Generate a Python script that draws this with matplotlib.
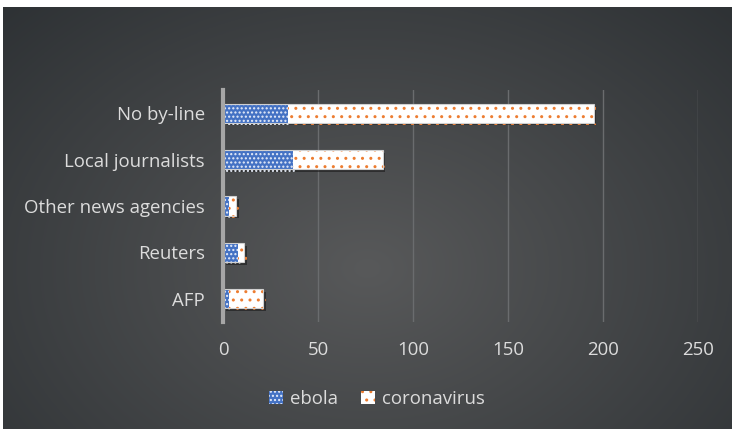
import numpy as np
import matplotlib
matplotlib.use("Agg")
import matplotlib.pyplot as plt
import matplotlib.patheffects as pe
from matplotlib.patches import Patch

# data
categories = ["AFP", "Reuters", "Other news agencies", "Local journalists", "No by-line"]
ebola = [3, 8, 3, 37, 34]
coronavirus = [18, 3, 4, 47, 161]
xticks = [0, 50, 100, 150, 200, 250]

plt.rcParams["font.family"] = ["Open Sans", "DejaVu Sans"]
plt.rcParams["hatch.linewidth"] = 1.0

fig = plt.figure(figsize=(7.32, 4.29), dpi=100)

# radial gradient background
bg = fig.add_axes([0.0041, 0, 0.9959, 1 - 7 / 429])
yy, xx = np.mgrid[0:1:300j, 0:1:500j]
r = np.sqrt(((xx - 0.5) / 0.75) ** 2 + ((yy - 0.62) / 0.95) ** 2)
r = np.clip(r, 0, 1)
c_in = np.array([0x58, 0x59, 0x5a]) / 255
c_out = np.array([0x2b, 0x2f, 0x32]) / 255
img = c_in[None, None, :] * (1 - r[..., None]) + c_out[None, None, :] * r[..., None]
bg.imshow(img, aspect="auto", extent=[0, 1, 0, 1], origin="upper")
bg.axis("off")

ax = fig.add_axes([223 / 732, 1 - 322 / 429, 475 / 732, 232 / 429])
ax.patch.set_alpha(0)

blue = "#4472C4"
orange = "#ED7D31"
y = np.arange(len(categories))
h = 0.41
shadow = [pe.SimplePatchShadow(offset=(2, -2), shadow_rgbFace="#1a1a1a", alpha=0.6), pe.Normal()]

b1 = ax.barh(y, ebola, height=h, color=blue, edgecolor="#e8eefa", hatch="....", linewidth=0,
             zorder=3)
b2 = ax.barh(y, coronavirus, left=ebola, height=h, color="white", edgecolor=orange,
             hatch="..", linewidth=0, zorder=3)
# outlines + shadows
for b in list(b1) + list(b2):
    b.set_path_effects(shadow)
ax.barh(y, np.array(ebola) + np.array(coronavirus), height=h, fill=False,
        edgecolor="#d0d0d0", linewidth=0.8, zorder=4)

ax.set_xlim(0, 250)
ax.set_ylim(-0.5, len(categories) - 0.5)
ax.set_xticks(xticks)
ax.set_yticks(y)
ax.set_yticklabels(categories)
ax.tick_params(colors="#d9d9d9", labelsize=13.4, length=0)
ax.tick_params(axis="y", pad=13)
ax.tick_params(axis="x", pad=14)
for lbl in ax.get_xticklabels() + ax.get_yticklabels():
    lbl.set_color("#dcdcdc")
ax.xaxis.grid(True, color="#6a6c6e", linewidth=1.0, zorder=0)
ax.set_axisbelow(True)
for s in ["top", "right", "bottom"]:
    ax.spines[s].set_visible(False)
ax.spines["left"].set_color("#a6a6a6")
ax.spines["left"].set_linewidth(3)
ax.spines["left"].set_zorder(5)

handles = [Patch(facecolor=blue, edgecolor="#e8eefa", hatch="....", linewidth=0),
           Patch(facecolor="white", edgecolor=orange, hatch="..", linewidth=0)]
leg = fig.legend(handles, ["ebola", "coronavirus"], loc="center", bbox_to_anchor=(0.515, 1 - 399 / 429),
                 ncol=2, frameon=False, fontsize=13.4, handlelength=0.75, handleheight=0.75,
                 handletextpad=0.4, columnspacing=1.2, labelcolor="#dcdcdc")

fig.savefig("out.png", dpi=100, facecolor="white")
